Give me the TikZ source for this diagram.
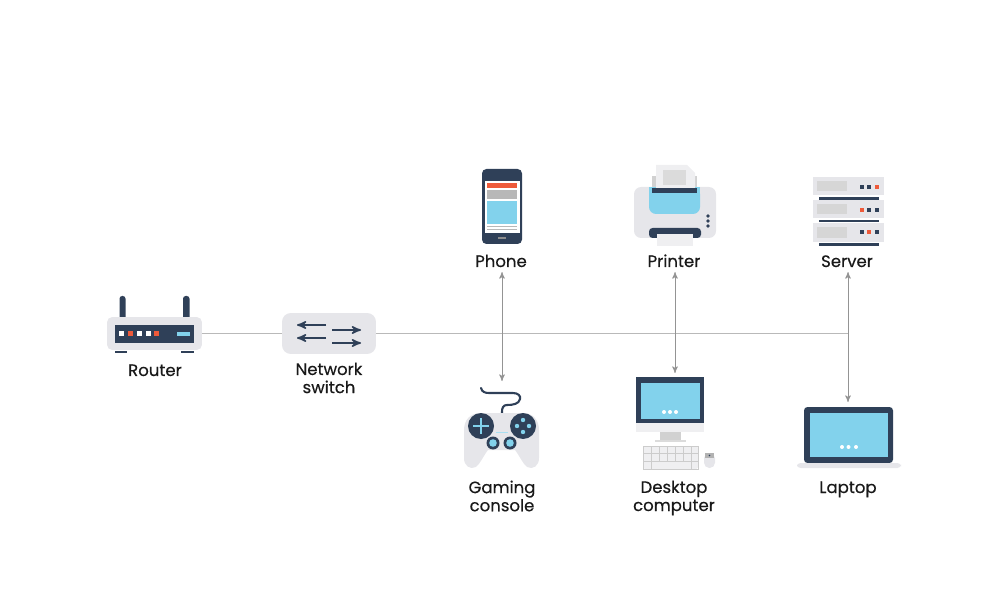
\documentclass[tikz,border=0pt]{standalone}
\usepackage{fontspec}
\setmainfont{Poppins}[RawFeature={embolden=0.4}]
\usetikzlibrary{arrows}
\definecolor{navy}{HTML}{2F4058}
\definecolor{panel}{HTML}{E6E6EA}
\definecolor{pale}{HTML}{EFEFF1}
\definecolor{sky}{HTML}{82D2EC}
\definecolor{alert}{HTML}{EE5A3A}
\definecolor{wire}{HTML}{B9B9B9}
\tikzset{
	devlabel/.style={font=\fontsize{9.4}{10.3}\selectfont, text=black!90, align=center, inner sep=2.6pt},
	wireline/.style={color=wire, line width=0.55pt},
	linkline/.style={color=black!42, line width=0.45pt, <->, >=stealth'},
	box/.style={inner sep=0pt, outer sep=0pt, rounded corners=3pt}
}
\begin{document}
\begin{tikzpicture}[x=0.02cm,y=-0.02cm]
	\useasboundingbox (0,0) rectangle (1000,594);
	
	% Router
	\fill[navy, rounded corners=1.5pt] (119.5,296) rectangle (125.5,320);
	\fill[navy, rounded corners=1.5pt] (183,296) rectangle (189.5,320);
	\node (router) [box, fill=panel, minimum width=1.9cm, minimum height=0.66cm] at (154.5,333.5) {};
	\fill[navy] (115,325) rectangle (194,343);
	\fill[white] (119,331) rectangle (123.5,335.5);
	\fill[alert] (128,331) rectangle (132.5,335.5);
	\fill[white] (137,331) rectangle (141.5,335.5);
	\fill[white] (146,331) rectangle (150.5,335.5);
	\fill[alert] (154,331) rectangle (158.5,335.5);
	\fill[sky] (177,332) rectangle (190,336);
	\fill[navy] (115,351) rectangle (127,352.5);
	\fill[navy] (181,351) rectangle (194,352.5);
	\node (routerlabel) [devlabel, anchor=base] at (155,376) {Router};
	
	% Network switch
	\node (switch) [box, fill=panel, rounded corners=5pt, minimum width=1.88cm, minimum height=0.82cm] at (329,333.5) {};
	\draw[navy, line width=0.9pt, ->, >=stealth'] (326,325) -- (297,325);
	\draw[navy, line width=0.9pt, ->, >=stealth'] (326,338) -- (297,338);
	\draw[navy, line width=0.9pt, ->, >=stealth'] (332,330) -- (361,330);
	\draw[navy, line width=0.9pt, ->, >=stealth'] (332,343) -- (361,343);
	\node (switchlabel) [devlabel] at (329,378) {Network\\switch};
	
	% Phone
	\fill[navy, rounded corners=2.5pt] (482,169) rectangle (522,244);
	\fill[white] (485,181) rectangle (520,233);
	\fill[alert] (487,183) rectangle (517,188);
	\fill[black!28] (487,190) rectangle (517,199);
	\fill[sky] (487,201) rectangle (517,224);
	\draw[black!28, line width=0.7pt] (487,226.5) -- (517,226.5);
	\draw[black!28, line width=0.7pt] (487,229.5) -- (517,229.5);
	\fill[black!45] (498,237.5) rectangle (506,239);
	\node (phonelabel) [devlabel, anchor=base] at (501,267) {Phone};
	
	% Printer
	\fill[black!18] (652,176) rectangle (697,190);
	\fill[pale] (656,165) -- (687,165) -- (695,173) -- (695,190) -- (656,190) -- cycle;
	\fill[black!14] (663,170) rectangle (686,185);
	\fill[panel, rounded corners=4pt] (634,187) rectangle (716,238);
	\fill[sky, rounded corners=4pt] (649,187) rectangle (700,214);
	\fill[sky] (649,187) rectangle (700,200);
	\fill[navy] (652,188) rectangle (697,193);
	\fill[pale] (656,180) rectangle (695,188.5);
	\fill[black!14] (663,180) rectangle (686,185);
	\fill[navy] (708,216) circle (1.8);
	\fill[navy] (708,221) circle (1.8);
	\fill[navy] (708,226) circle (1.8);
	\fill[navy, rounded corners=2pt] (649,238) -- (649,228) -- (701,228) -- (701,238) -- cycle;
	\fill[pale] (657,234) rectangle (693,246);
	\node (printerlabel) [devlabel, anchor=base] at (674,267) {Printer};
	
	% Server
	\fill[panel] (813,177) rectangle (884,195);
	\fill[panel] (813,200) rectangle (884,218);
	\fill[panel] (813,223) rectangle (884,242);
	\fill[black!16] (817,181) rectangle (847,191);
	\fill[black!16] (817,204) rectangle (847,214);
	\fill[black!16] (817,227) rectangle (847,238);
	\fill[navy] (819,197) rectangle (879,200);
	\fill[navy] (819,220) rectangle (879,222.5);
	\fill[navy] (819,243) rectangle (879,246);
	\fill[navy] (860,185) rectangle (864,189);
	\fill[navy] (867,185) rectangle (871,189);
	\fill[alert] (875,185) rectangle (879,189);
	\fill[alert] (860,208) rectangle (864,212);
	\fill[navy] (867,208) rectangle (871,212);
	\fill[navy] (875,208) rectangle (879,212);
	\fill[navy] (860,230) rectangle (864,234);
	\fill[alert] (867,230) rectangle (871,234);
	\fill[navy] (875,230) rectangle (879,234);
	\node (serverlabel) [devlabel, anchor=base] at (847,267) {Server};
	
	% Gaming console
	\draw[navy, line width=1.2pt, line cap=round] (481,388) .. controls (482,392) and (485,393) .. (489,393) -- (513,393) .. controls (518,393) and (521,396) .. (520,399) .. controls (519,404) and (513,405) .. (507,405) .. controls (503,405) and (502,408) .. (502,412) -- (502,417);
	\fill[panel] (481,413) -- (523,413) .. controls (533,413) and (539,420) .. (539,430) -- (539,458) .. controls (539,466) and (533,470) .. (527,467) .. controls (523,464) and (519,455) .. (515,450) -- (488,450) .. controls (484,455) and (480,464) .. (476,467) .. controls (470,470) and (464,466) .. (464,458) -- (464,430) .. controls (464,420) and (470,413) .. (481,413) -- cycle;
	\fill[navy] (481,426) circle (13);
	\fill[navy] (523,426) circle (13);
	\fill[sky] (479.8,418) rectangle (482.2,434);
	\fill[sky] (473,424.8) rectangle (489,427.2);
	\fill[sky] (523,420) circle (2.2);
	\fill[sky] (523,432) circle (2.2);
	\fill[sky] (517,426) circle (2.2);
	\fill[sky] (529,426) circle (2.2);
	\fill[navy] (493,443) circle (6.5);
	\fill[navy] (510,443) circle (6.5);
	\fill[sky] (493,443) circle (3.8);
	\fill[sky] (510,443) circle (3.8);
	\fill[sky!70!white] (496,431.5) rectangle (508,433);
	\node (consolelabel) [devlabel] at (502,496) {Gaming\\console};
	
	% Desktop computer
	\fill[pale] (636,423) rectangle (704,432);
	\fill[navy] (636,377) rectangle (704,423);
	\fill[sky] (641,383) rectangle (700,419);
	\fill[white] (664,412) circle (2);
	\fill[white] (670,412) circle (2);
	\fill[white] (676,412) circle (2);
	\fill[black!18] (660,432) rectangle (681,440);
	\fill[black!14] (655,440) rectangle (686,442);
	\fill[pale, rounded corners=1pt] (643,446) rectangle (698,469);
	\draw[black!20, line width=0.55pt] (643,446) rectangle (698,469);
	\draw[black!20, line width=0.55pt] (643,453.5) -- (698,453.5) (643,461) -- (698,461);
	\draw[black!20, line width=0.55pt] (651,446) -- (651,469) (659,446) -- (659,461) (667,446) -- (667,461) (675,446) -- (675,461) (683,446) -- (683,461) (691,446) -- (691,469);
	\fill[panel, rounded corners=3pt] (704,453) rectangle (715,468);
	\fill[black!30] (705,453) rectangle (714,458);
	\fill[navy] (709.5,455.5) circle (0.8);
	\node (desktoplabel) [devlabel] at (674,498) {Desktop\\computer};
	
	% Laptop
	\fill[navy, rounded corners=2pt] (804,407) rectangle (893,463);
	\fill[sky] (810,413) rectangle (888,457);
	\fill[white] (842,447) circle (2);
	\fill[white] (848.5,447) circle (2);
	\fill[white] (856,447) circle (2);
	\fill[panel, rounded corners=2pt] (797,463) rectangle (901,468);
	\node (laptoplabel) [devlabel, anchor=base] at (848,493) {Laptop};
	
	% Wiring
	\coordinate (hub) at (848,333.5);
	\coordinate (consoletop) at (502,381);
	\coordinate (desktoptop) at (675,373);
	\coordinate (laptoptop) at (848,402);
	\draw[wireline] (router) -- (switch);
	\draw[wireline] (switch) -- (hub);
	\draw[linkline] (consoletop |- phonelabel.south) -- (consoletop);
	\draw[linkline] (desktoptop |- printerlabel.south) -- (desktoptop);
	\draw[linkline] (laptoptop |- serverlabel.south) -- (laptoptop);
\end{tikzpicture}
\end{document}
